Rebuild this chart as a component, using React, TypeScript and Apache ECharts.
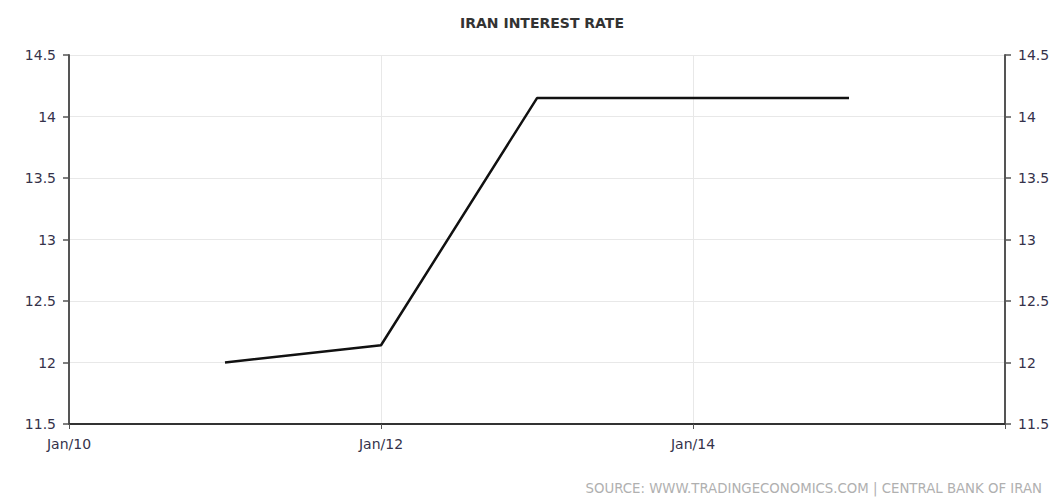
import React, { useEffect, useRef } from "react";
import * as echarts from "echarts";

const title = "IRAN INTEREST RATE";
const source = "SOURCE: WWW.TRADINGECONOMICS.COM | CENTRAL BANK OF IRAN";
// x positions in years (Jan of each year)
const years = [2011, 2012, 2013, 2015];
const rates = [12.0, 12.14, 14.15, 14.15];
const yMin = 11.5;
const yMax = 14.5;
const xMin = 2010;
const xMax = 2016;

export default function App() {
  const ref = useRef<HTMLDivElement>(null);
  useEffect(() => {
    const chart = echarts.init(ref.current!, undefined, { renderer: "svg" });
    const axisLabelColor = "#35324a";
    const yAxisCommon = {
      type: "value" as const,
      min: yMin,
      max: yMax,
      interval: 0.5,
      axisLine: { show: true, lineStyle: { color: "#555", width: 2 } },
      axisTick: { show: true, length: 6, lineStyle: { color: "#555", width: 1.5 } },
      axisLabel: {
        color: axisLabelColor,
        fontSize: 14,
        fontFamily: "DejaVu Sans",
        margin: 13,
      },
    };
    chart.setOption({
      animation: false,
      backgroundColor: "#fff",
      title: {
        text: title,
        left: 537,
        top: 11,
        textAlign: "center",
        textStyle: {
          fontFamily: "DejaVu Sans",
          fontSize: 14,
          fontWeight: "bold",
          color: "#333",
        },
      },
      graphic: [
        {
          type: "text",
          right: 16,
          top: 482,
          style: {
            text: source,
            fontFamily: "DejaVu Sans",
            fontSize: 13.3,
            fill: "#b0b0b0",
          },
        },
      ],
      grid: { left: 69, right: 53, top: 55, bottom: 78 },
      xAxis: {
        type: "value",
        min: xMin,
        max: xMax,
        interval: 2,
        axisLine: { show: true, lineStyle: { color: "#333", width: 2 } },
        axisTick: { show: true, length: 5, lineStyle: { color: "#555" } },
        splitLine: { show: true, lineStyle: { color: "#e8e8e8" } },
        axisLabel: {
          color: axisLabelColor,
          fontSize: 14,
          fontFamily: "DejaVu Sans",
          margin: 13,
          formatter: (v: number) => (v >= xMax ? "" : "Jan/" + String(v).slice(2)),
        },
      },
      yAxis: [
        {
          ...yAxisCommon,
          position: "left",
          splitLine: { show: true, lineStyle: { color: "#e8e8e8" } },
        },
        {
          ...yAxisCommon,
          position: "right",
          splitLine: { show: false },
          axisLabel: { ...yAxisCommon.axisLabel, align: "left" },
        },
      ],
      series: [
        {
          type: "line",
          data: years.map((y, i) => [y, rates[i]]),
          showSymbol: false,
          lineStyle: { color: "#111", width: 2.5 },
        },
      ],
    });
    return () => chart.dispose();
  }, []);
  return (
    <div
      ref={ref}
      style={{ position: "fixed", left: 0, top: 0, width: 1058, height: 502 }}
    />
  );
}
